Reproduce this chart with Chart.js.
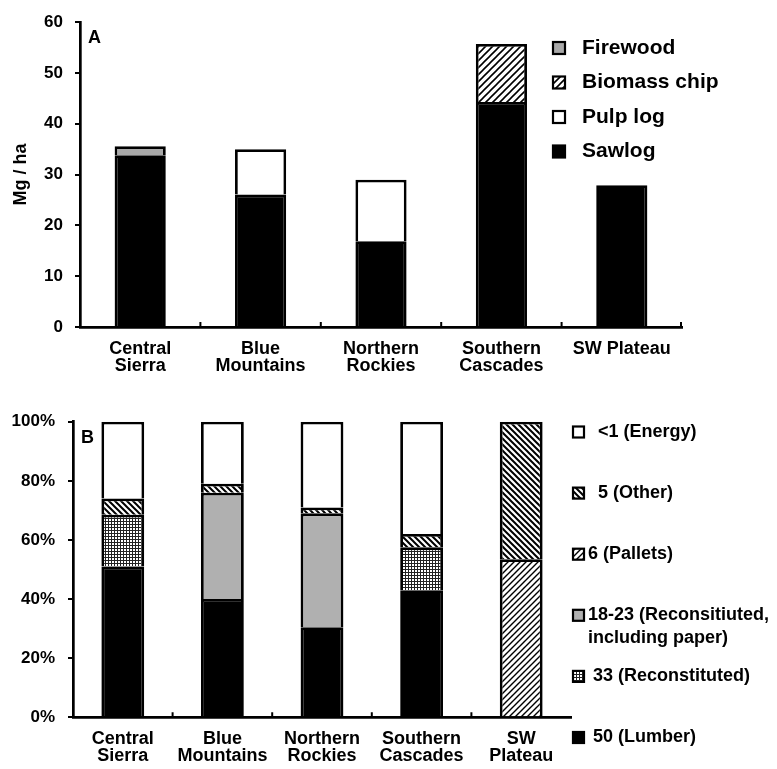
<!DOCTYPE html>
<html>
<head>
<meta charset="utf-8">
<script src="https://cdn.jsdelivr.net/npm/chart.js@4/dist/chart.umd.min.js"></script>
<style>
  html, body { margin: 0; padding: 0; background: #fff; }
  canvas { display: block; }
</style>
</head>
<body>
<canvas id="chartA" width="777" height="380"></canvas>
<canvas id="chartB" width="777" height="389"></canvas>
<script>
const regionsA = [['Central', 'Sierra'], ['Blue', 'Mountains'], ['Northern', 'Rockies'], ['Southern', 'Cascades'], 'SW Plateau']
const regionsB = [['Central', 'Sierra'], ['Blue', 'Mountains'], ['Northern', 'Rockies'], ['Southern', 'Cascades'], ['SW', 'Plateau']]

// panel A (Mg / ha)
const sawlog = [33.8, 26.1, 16.9, 44.3, 27.9]
const pulpLog = [0, 8.9, 12.1, 0, 0]
const biomassChip = [0, 0, 0, 11.4, 0]
const firewood = [1.8, 0, 0, 0, 0]
const ticksA = [0, 10, 20, 30, 40, 50, 60]

// panel B (share, %)
const lumber50 = [51, 40, 30.5, 43, 0]
const recon33 = [17.5, 0, 0, 14.5, 0]
const recon1823 = [0, 36, 38.5, 0, 0]
const pallets6 = [0, 0, 0, 0, 53.5]
const other5 = [5.5, 3, 2, 4.5, 46.5]
const energy1 = [26, 21, 29, 38, 0]
const ticksB = [0, 20, 40, 60, 80, 100]

const FONT = '"Liberation Sans", Arial, sans-serif'

function hatch(ctx, dir, size, lw) {
	const c = document.createElement('canvas')
	c.width = size
	c.height = size
	const x = c.getContext('2d')
	x.fillStyle = '#fff'
	x.fillRect(0, 0, size, size)
	x.strokeStyle = '#000'
	x.lineWidth = lw
	x.beginPath()
	if (dir === '/') {
		x.moveTo(-1, 1); x.lineTo(1, -1)
		x.moveTo(0, size); x.lineTo(size, 0)
		x.moveTo(size - 1, size + 1); x.lineTo(size + 1, size - 1)
	} else {
		x.moveTo(-1, size - 1); x.lineTo(1, size + 1)
		x.moveTo(0, 0); x.lineTo(size, size)
		x.moveTo(size - 1, -1); x.lineTo(size + 1, 1)
	}
	x.stroke()
	return ctx.createPattern(c, 'repeat')
}

function gridFill(ctx, size) {
	const c = document.createElement('canvas')
	c.width = size
	c.height = size
	const x = c.getContext('2d')
	x.fillStyle = '#fff'
	x.fillRect(0, 0, size, size)
	x.fillStyle = '#222'
	x.fillRect(0, 0, size, 1)
	x.fillRect(0, 0, 1, size)
	return ctx.createPattern(c, 'repeat')
}

// inward category ticks, panel letter and the legend
const panelDecor = {
	id: 'panelDecor',
	afterDraw(chart, args, opts) {
		const ctx = chart.ctx
		const area = chart.chartArea
		const xs = chart.scales.x
		const n = chart.data.labels.length
		ctx.save()
		ctx.strokeStyle = '#000'
		ctx.lineWidth = 2
		ctx.beginPath()
		for (let i = 0; i < n - 1; i++) {
			const px = (xs.getPixelForValue(i) + xs.getPixelForValue(i + 1)) / 2
			ctx.moveTo(px, area.bottom)
			ctx.lineTo(px, area.bottom - 5)
		}
		if (opts.endTick) {
			ctx.moveTo(area.right - 1, area.bottom)
			ctx.lineTo(area.right - 1, area.bottom - 5)
		}
		ctx.stroke()

		ctx.fillStyle = '#000'
		ctx.font = 'bold 18px ' + FONT
		ctx.textBaseline = 'alphabetic'
		ctx.fillText(opts.letter, area.left + 8, area.top + 21)

		const lg = opts.legend
		ctx.font = 'bold ' + lg.size + 'px ' + FONT
		ctx.textBaseline = 'middle'
		chart.data.datasets.slice().reverse().forEach((d, i) => {
			const cy = lg.y + i * lg.step
			ctx.fillStyle = d.backgroundColor
			ctx.fillRect(lg.x, cy - lg.box / 2, lg.box, lg.box)
			ctx.lineWidth = 2.2
			ctx.strokeStyle = '#000'
			ctx.strokeRect(lg.x, cy - lg.box / 2, lg.box, lg.box)
			ctx.fillStyle = '#000'
			d.label.split('\n').forEach((t, j) => {
				ctx.fillText(t, lg.x + lg.box + lg.gap, cy + j * lg.lineH)
			})
		})
		ctx.restore()
	}
}

const tickFont = {family: FONT, size: 17, weight: 'bold'}

// ---- panel A
const ctxA = document.getElementById('chartA').getContext('2d')
new Chart(ctxA, {
	type: 'bar',
	data: {
		labels: regionsA,
		datasets: [
			{label: 'Sawlog', data: sawlog, backgroundColor: '#000'},
			{label: 'Pulp log', data: pulpLog, backgroundColor: '#fff'},
			{label: 'Biomass chip', data: biomassChip, backgroundColor: hatch(ctxA, '/', 7, 1.6)},
			{label: 'Firewood', data: firewood, backgroundColor: '#a9a9a9'}
		]
	},
	options: {
		responsive: false,
		animation: false,
		datasets: {bar: {borderColor: '#000', borderWidth: 2.8, categoryPercentage: 1, barPercentage: 0.425}},
		layout: {padding: {left: 0, right: 95, top: 16, bottom: 0}},
		plugins: {
			legend: {display: false},
			tooltip: {enabled: false},
			panelDecor: {
				letter: 'A',
				endTick: true,
				legend: {x: 553, y: 48, step: 34.5, box: 12, gap: 17, size: 21, lineH: 22}
			}
		},
		scales: {
			x: {
				stacked: true,
				grid: {display: true, drawOnChartArea: false, drawTicks: false},
				border: {color: '#000', width: 2.7},
				ticks: {color: '#000', font: {family: FONT, size: 18, weight: 'bold', lineHeight: 0.95}, padding: 13, maxRotation: 0, autoSkip: false},
				afterFit: s => { s.height = 53 }
			},
			y: {
				stacked: true,
				min: 0,
				max: 60,
				afterBuildTicks: s => { s.ticks = ticksA.map(v => ({value: v})) },
				grid: {drawOnChartArea: false, color: '#000', lineWidth: 2, tickLength: 5},
				border: {color: '#000', width: 2.7},
				ticks: {color: '#000', font: tickFont, padding: 12},
				title: {display: true, text: 'Mg / ha', color: '#000', font: {family: FONT, size: 18, weight: 'bold', lineHeight: 1}, padding: {top: 12, bottom: 0}},
				afterFit: s => { s.width = 80 }
			}
		}
	},
	plugins: [panelDecor]
})

// ---- panel B
const ctxB = document.getElementById('chartB').getContext('2d')
new Chart(ctxB, {
	type: 'bar',
	data: {
		labels: regionsB,
		datasets: [
			{label: ' 50 (Lumber)', data: lumber50, backgroundColor: '#000'},
			{label: ' 33 (Reconstituted)', data: recon33, backgroundColor: gridFill(ctxB, 3)},
			{label: '18-23 (Reconsitiuted,\nincluding paper)', data: recon1823, backgroundColor: '#b0b0b0'},
			{label: '6 (Pallets)', data: pallets6, backgroundColor: hatch(ctxB, '/', 6, 1.4)},
			{label: '  5 (Other)', data: other5, backgroundColor: hatch(ctxB, '\\', 6, 2)},
			{label: '  <1 (Energy)', data: energy1, backgroundColor: '#fff'}
		]
	},
	options: {
		responsive: false,
		animation: false,
		datasets: {bar: {borderColor: '#000', borderWidth: 2.8, categoryPercentage: 1, barPercentage: 0.43}},
		layout: {padding: {left: 0, right: 206, top: 41.7, bottom: 0}},
		plugins: {
			legend: {display: false},
			tooltip: {enabled: false},
			panelDecor: {
				letter: 'B',
				endTick: false,
				legend: {x: 573, y: 52, step: 61.1, box: 11, gap: 4, size: 18, lineH: 22.4}
			}
		},
		scales: {
			x: {
				stacked: true,
				grid: {display: true, drawOnChartArea: false, drawTicks: false},
				border: {color: '#000', width: 2.7},
				ticks: {color: '#000', font: {family: FONT, size: 18, weight: 'bold', lineHeight: 0.9}, padding: 14, maxRotation: 0, autoSkip: false},
				afterFit: s => { s.height = 51.7 }
			},
			y: {
				stacked: true,
				min: 0,
				max: 100,
				afterBuildTicks: s => { s.ticks = ticksB.map(v => ({value: v})) },
				grid: {drawOnChartArea: false, color: '#000', lineWidth: 2, tickLength: 5},
				border: {color: '#000', width: 2.7},
				ticks: {color: '#000', font: tickFont, padding: 13, callback: v => v + '%'},
				afterFit: s => { s.width = 73 }
			}
		}
	},
	plugins: [panelDecor]
})
</script>
</body>
</html>
